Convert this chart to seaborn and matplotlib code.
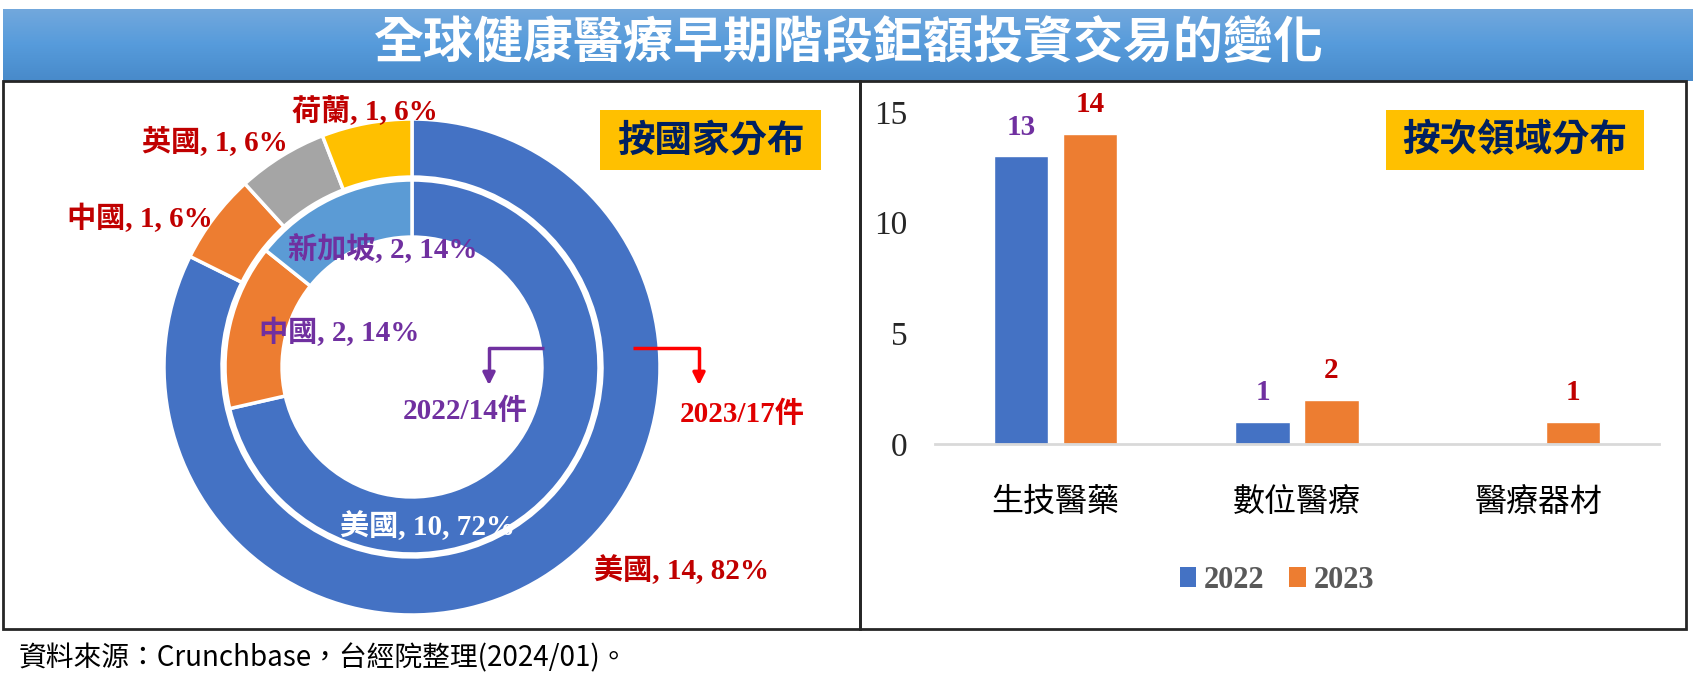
import numpy as np
import pandas as pd
import matplotlib
matplotlib.use("Agg")
import matplotlib.pyplot as plt
from matplotlib.patches import Rectangle, Patch
import seaborn as sns

# ---------------- data ----------------
title = "全球健康醫療早期階段鉅額投資交易的變化"
source = "資料來源：Crunchbase，台經院整理(2024/01)。"

outer_names = ["美國", "中國", "英國", "荷蘭"]          # 2023
outer_values = [14, 1, 1, 1]
outer_pcts = [82, 6, 6, 6]
inner_names = ["美國", "中國", "新加坡"]                # 2022
inner_values = [10, 2, 2]
inner_pcts = [72, 14, 14]
center_labels = ["2022/14件", "2023/17件"]
pie_box = "按國家分布"

categories = ["生技醫藥", "數位醫療", "醫療器材"]
years = ["2022", "2023"]
values_2022 = [13, 1, 0]
values_2023 = [14, 2, 1]
yticks = [0, 5, 10, 15]
bar_box = "按次領域分布"

# ---------------- style ----------------
sns.set_theme(style="white")
CJK = "Noto Sans CJK TC"
SERIF = ["Liberation Serif", CJK]
plt.rcParams["font.family"] = [CJK, "DejaVu Sans"]

W, H = 1693, 695
fig = plt.figure(figsize=(W / 100, H / 100), dpi=100)


def fx(px):
    return px / W


def fy(py):  # py from top
    return 1 - py / H


# title bar with gradient
tax = fig.add_axes([fx(3), fy(81), fx(1690), 72 / H])
top = np.array(matplotlib.colors.to_rgb("#72a8dd"))
mid = np.array(matplotlib.colors.to_rgb("#569bdb"))
bot = np.array(matplotlib.colors.to_rgb("#488aca"))
n = 100
t = np.linspace(0, 1, n)[:, None]
grad = np.where(t < 0.5, top + (mid - top) * (t / 0.5), mid + (bot - mid) * ((t - 0.5) / 0.5))
tax.imshow(grad[:, None, :], aspect="auto", extent=[0, 1, 0, 1])
tax.set_axis_off()
fig.text(fx(849), fy(44), title, color="white", fontsize=36, fontweight="bold",
         ha="center", va="center", family=[CJK, "DejaVu Sans"])

# panel borders
fig.add_artist(Rectangle((fx(3), fy(629)), fx(857), 548 / H, transform=fig.transFigure,
                         fill=False, edgecolor="#262626", lw=2))
fig.add_artist(Rectangle((fx(860), fy(629)), fx(826), 548 / H, transform=fig.transFigure,
                         fill=False, edgecolor="#262626", lw=2))

# ---------------- donut ----------------
cx, cy, R = 412, 367, 248
pax = fig.add_axes([fx(cx - R), fy(cy + R), fx(2 * R), 2 * R / H])
outer_colors = ["#4472C4", "#ED7D31", "#A5A5A5", "#FFC000"]
inner_colors = ["#4472C4", "#ED7D31", "#5B9BD5"]
pax.pie(outer_values, radius=1.0, colors=outer_colors, startangle=90, counterclock=False,
        wedgeprops=dict(width=0.234, edgecolor="white", linewidth=2.5))
pax.pie(inner_values, radius=0.754, colors=inner_colors, startangle=90, counterclock=False,
        wedgeprops=dict(width=0.23, edgecolor="white", linewidth=2.5))
pax.set_xlim(-1, 1)
pax.set_ylim(-1, 1)
pax.set_aspect("equal")
pax.set_axis_off()


def d(px, py):
    return ((px - cx) / R, (cy - py) / R)


RED = "#C00000"
PURPLE = "#7030A0"
lab_kw = dict(fontsize=21, fontweight="bold", family=SERIF, ha="center", va="center")
outer_pos = [d(682, 570), d(140, 218), d(215, 142), d(365, 110)]
for nm, v, p, pos in zip(outer_names, outer_values, outer_pcts, outer_pos):
    pax.text(*pos, f"{nm}, {v}, {p}%", color=RED, clip_on=False, **lab_kw)
inner_pos = [d(428, 526), d(339, 332), d(383, 248)]
inner_txt_colors = ["white", PURPLE, PURPLE]
for nm, v, p, pos, c in zip(inner_names, inner_values, inner_pcts, inner_pos, inner_txt_colors):
    pax.text(*pos, f"{nm}, {v}, {p}%", color=c, clip_on=False, **lab_kw)

pax.text(*d(465, 411), center_labels[0], color=PURPLE, clip_on=False, **lab_kw)
pax.text(*d(742, 414), center_labels[1], color="#E00000", clip_on=False, **lab_kw)

# elbow arrows
for (p0, p1, p2, col) in [(d(544, 348), d(489, 348), d(489, 388), PURPLE),
                          (d(633, 348), d(699, 348), d(699, 388), "#FF0000")]:
    pax.plot([p0[0], p1[0], p1[0]], [p0[1], p1[1], p2[1] + 0.06], color=col, lw=2.5,
             solid_capstyle="butt", clip_on=False)
    pax.annotate("", xy=p2, xytext=(p1[0], p2[1] + 0.07),
                 arrowprops=dict(arrowstyle="-|>", color=col, lw=2.5, mutation_scale=18),
                 annotation_clip=False)

# boxes
NAVY = "#002060"
fig.add_artist(Rectangle((fx(600), fy(170)), fx(221), 60 / H, transform=fig.transFigure,
                         facecolor="#FFC000", edgecolor="none"))
fig.text(fx(710.5), fy(140), pie_box, color=NAVY, fontsize=27, fontweight="bold",
         ha="center", va="center")
fig.add_artist(Rectangle((fx(1386), fy(170)), fx(258), 60 / H, transform=fig.transFigure,
                         facecolor="#FFC000", edgecolor="none"))
fig.text(fx(1515), fy(140), bar_box, color=NAVY, fontsize=27, fontweight="bold",
         ha="center", va="center")

# ---------------- bars ----------------
df = pd.DataFrame({
    "category": categories * 2,
    "year": [years[0]] * 3 + [years[1]] * 3,
    "value": values_2022 + values_2023,
})
bax = fig.add_axes([fx(935), fy(444), fx(724), 332 / H])
sns.barplot(data=df, x="category", y="value", hue="year", order=categories,
            hue_order=years, palette=["#4472C4", "#ED7D31"], width=0.572, gap=0.217,
            saturation=1, ax=bax, legend=False)
bax.set_xlim(-0.5, 2.5)
bax.set_ylim(0, 15)
bax.set_yticks(yticks)
bax.set_xlabel("")
bax.set_ylabel("")
for s in ["top", "right", "left"]:
    bax.spines[s].set_visible(False)
bax.spines["bottom"].set_color("#d9d9d9")
bax.spines["bottom"].set_linewidth(2)
bax.tick_params(axis="y", length=0, pad=20)
bax.tick_params(axis="x", length=0, pad=30)
for lbl in bax.get_yticklabels():
    lbl.set_fontfamily(SERIF)
    lbl.set_fontsize(24)
    lbl.set_color("#262626")
for lbl in bax.get_xticklabels():
    lbl.set_fontsize(23)
    lbl.set_color("black")
bax.set_facecolor("none")

label_colors = [PURPLE, RED]
for cont, col in zip(bax.containers, label_colors):
    for rect in cont:
        h = rect.get_height()
        if h <= 0:
            continue
        bax.annotate(f"{int(h)}", (rect.get_x() + rect.get_width() / 2, h),
                     xytext=(0, 21), textcoords="offset points", ha="center", va="center",
                     color=col, fontsize=21, fontweight="bold", family=SERIF,
                     annotation_clip=False)

handles = [Patch(facecolor=c, edgecolor="none") for c in ["#4472C4", "#ED7D31"]]
leg = bax.legend(handles, years, loc="center", bbox_to_anchor=(0.472, -0.41), ncol=2,
                 frameon=False, handlelength=0.55, handleheight=0.65, handletextpad=0.25,
                 columnspacing=0.8, prop=dict(family=SERIF, size=22, weight="bold"),
                 labelcolor="#595959")

# source
fig.text(fx(19), fy(658), source, fontsize=20, color="black", ha="left", va="center")

fig.savefig("out.png", dpi=100, facecolor="white")
